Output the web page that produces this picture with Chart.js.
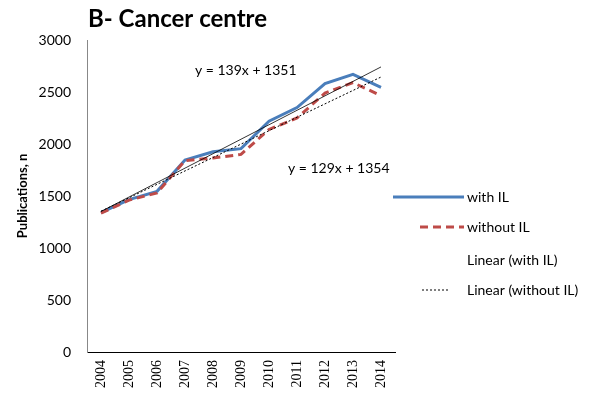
<!DOCTYPE html>
<html>
<head>
<meta charset="utf-8">
<script src="https://cdn.jsdelivr.net/npm/chart.js@4.4.1/dist/chart.umd.min.js"></script>
<style>
  html, body { margin: 0; padding: 0; background: #fff; }
  #wrap { position: relative; width: 593px; height: 403px; }
</style>
</head>
<body>
<div id="wrap"><canvas id="chart" width="593" height="403"></canvas></div>
<script>
// data
const years = ["2004", "2005", "2006", "2007", "2008", "2009", "2010", "2011", "2012", "2013", "2014"];
const withIL = [1340, 1465, 1545, 1845, 1925, 1955, 2220, 2350, 2580, 2670, 2545];
const withoutIL = [1335, 1460, 1530, 1840, 1865, 1900, 2140, 2250, 2490, 2590, 2465];
const yTicks = [0, 500, 1000, 1500, 2000, 2500, 3000];

// trend equations as printed on the chart (x counted from 2004 = 0)
const trendWithIL = { slope: 139, intercept: 1351 };
const trendWithoutIL = { slope: 129, intercept: 1354 };
const trendText = ["y = 139x + 1351", "y = 129x + 1354"];

const fitLine = (tr) => years.map((_, i) => tr.intercept + tr.slope * i);

const FONT = "Lato, 'Open Sans', sans-serif";

// title, equations and legend drawn on top of the chart
const overlay = {
  id: "overlay",
  afterDraw(chart) {
    const { ctx, chartArea } = chart;
    ctx.save();
    ctx.fillStyle = "#000";
    ctx.textBaseline = "middle";
    ctx.textAlign = "left";

    ctx.font = "bold 24px " + FONT;
    ctx.fillText("B- Cancer centre", chartArea.left + 1, 19);

    ctx.font = "14px " + FONT;
    ctx.fillText(trendText[0], 195, 70);
    ctx.fillText(trendText[1], 288, 168);

    // legend
    const rows = [197, 227, 260, 290];
    chart.data.datasets.forEach((ds, i) => {
      const y = rows[i];
      if (ds.legendSample !== false) {
        ctx.save();
        ctx.strokeStyle = ds.borderColor;
        ctx.lineWidth = ds.borderWidth;
        ctx.setLineDash(ds.borderDash || []);
        ctx.beginPath();
        ctx.moveTo(ds.legendFrom || 420, y);
        ctx.lineTo(ds.legendTo || 464, y);
        ctx.stroke();
        ctx.restore();
      }
      ctx.fillStyle = "#000";
      ctx.font = "14px " + FONT;
      ctx.fillText(ds.label, 467, y);
    });
    ctx.restore();
  }
};

new Chart(document.getElementById("chart"), {
  type: "line",
  data: {
    labels: years,
    datasets: [
      {
        label: "with IL",
        data: withIL,
        borderColor: "#4A7EBB",
        borderWidth: 3,
        pointRadius: 0,
        tension: 0,
        legendFrom: 393,
        legendTo: 464,
        order: 2
      },
      {
        label: "without IL",
        data: withoutIL,
        borderColor: "#BE4B48",
        borderWidth: 3,
        borderDash: [8, 5],
        pointRadius: 0,
        tension: 0,
        order: 1
      },
      {
        label: "Linear (with IL)",
        data: fitLine(trendWithIL),
        borderColor: "#000",
        borderWidth: 0.8,
        pointRadius: 0,
        legendSample: false,
        order: 0
      },
      {
        label: "Linear (without IL)",
        data: fitLine(trendWithoutIL),
        borderColor: "#000",
        borderWidth: 1,
        borderDash: [2, 2],
        pointRadius: 0,
        legendFrom: 422,
        legendTo: 448,
        order: 0
      }
    ]
  },
  options: {
    responsive: false,
    animation: false,
    layout: { padding: { left: 0, top: 40, right: 198, bottom: 0 } },
    plugins: {
      legend: { display: false },
      title: { display: false },
      tooltip: { enabled: false }
    },
    scales: {
      x: {
        type: "category",
        offset: true,
        grid: { display: false, drawTicks: false },
        border: { color: "#000", width: 1 },
        ticks: {
          minRotation: 90,
          maxRotation: 90,
          padding: 8,
          color: "#000",
          font: { family: "'Liberation Serif', serif", size: 14 }
        },
        afterFit(scale) { scale.height = 51; }
      },
      y: {
        min: 0,
        max: 3000,
        afterBuildTicks(scale) { scale.ticks = yTicks.map((v) => ({ value: v })); },
        grid: { display: false, drawTicks: false },
        border: { color: "#888", width: 1 },
        ticks: {
          padding: 16,
          color: "#000",
          font: { family: FONT, size: 14 },
          callback: (v) => String(v)
        },
        title: {
          display: true,
          text: "Publications, n",
          color: "#000",
          font: { family: FONT, size: 13, weight: "bold" },
          padding: { top: 15, bottom: 0 }
        },
        afterFit(scale) { scale.width = 87; }
      }
    }
  },
  plugins: [overlay]
});
</script>
</body>
</html>
